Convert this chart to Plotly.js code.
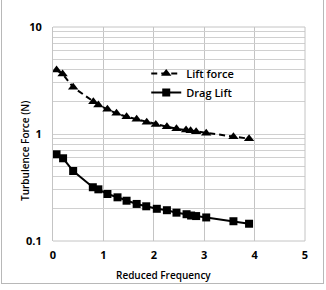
<!DOCTYPE html>
<html><head><meta charset="utf-8">
<script src="https://cdn.plot.ly/plotly-3.0.1.min.js"></script>
<style>
html,body{margin:0;padding:0;background:#fff;}
#wrap{position:relative;width:326px;height:290px;}
#chart{width:326px;height:290px;}
#frame{position:absolute;left:1px;top:-2px;width:321px;height:284px;border:1px solid #b8b8b8;pointer-events:none;}
</style></head>
<body>
<div id="wrap"><div id="chart"></div><div id="frame"></div></div>
<script>
const liftX = [0.07,0.19,0.40,0.80,0.90,1.08,1.26,1.46,1.66,1.86,2.04,2.26,2.45,2.64,2.73,2.84,3.04,3.58,3.89];
const liftY = [3.96,3.64,2.73,2.00,1.87,1.70,1.56,1.45,1.37,1.29,1.23,1.17,1.12,1.09,1.07,1.05,1.015,0.944,0.904];
const dragX = [0.07,0.20,0.40,0.79,0.90,1.08,1.28,1.46,1.66,1.85,2.06,2.26,2.45,2.65,2.74,2.84,3.04,3.58,3.89];
const dragY = [0.646,0.593,0.451,0.318,0.304,0.275,0.256,0.238,0.222,0.211,0.200,0.194,0.184,0.178,0.173,0.171,0.166,0.153,0.145];
const seriesNames = ["Lift force","Drag Lift"];
const xTicks = [0,1,2,3,4,5];
const yDecades = [0.1,1,10];
const yDecadeLabels = ["0.1","1","10"];
const xTitle = "Reduced Frequency";
const yTitle = "Turbulence Force (N)";

const yGridVals = [];
const yGridText = [];
[0.1,1].forEach(d=>{for(let k=1;k<=9;k++){const v=+(d*k).toPrecision(3);yGridVals.push(v);const i=yDecades.indexOf(v);yGridText.push(i>=0?yDecadeLabels[i]:"");}});
yGridVals.push(10); yGridText.push("10");

const fontFam = "Open Sans, sans-serif";
const data = [
 {x:liftX,y:liftY,name:seriesNames[0],mode:"lines+markers",type:"scatter",
  line:{color:"#000",width:2,dash:"6px,4px"},marker:{symbol:"triangle-up",size:9,color:"#000"}},
 {x:dragX,y:dragY,name:seriesNames[1],mode:"lines+markers",type:"scatter",
  line:{color:"#000",width:2},marker:{symbol:"square",size:8,color:"#000"}}
];
const layout = {
 width:326,height:290,
 margin:{l:53,r:21,t:27,b:49},
 paper_bgcolor:"#fff",plot_bgcolor:"#fff",
 showlegend:true,
 legend:{x:0.37,y:0.85,xanchor:"left",yanchor:"top",bgcolor:"rgba(0,0,0,0)",
   font:{family:fontFam,size:11,color:"#000",weight:600},tracegroupgap:0,itemwidth:30},
 xaxis:{range:[0,5],tickvals:xTicks,ticktext:xTicks.map(String),showgrid:true,gridcolor:"#c4c4c4",gridwidth:1,
   zeroline:false,showline:false,ticks:"",tickfont:{family:fontFam,size:11,color:"#000",weight:700},
   ticklabelstandoff:6,fixedrange:true},
 yaxis:{type:"log",range:[-1,1],tickvals:yGridVals,ticktext:yGridText,showgrid:true,gridcolor:"#d0d0d0",gridwidth:1,
   zeroline:false,showline:true,linecolor:"#c4c4c4",ticks:"",tickfont:{family:fontFam,size:11,color:"#000",weight:700},
   ticklabelstandoff:8,fixedrange:true},
 shapes:[
  {type:"line",xref:"paper",yref:"paper",x0:1,x1:1,y0:0,y1:1,line:{color:"#c4c4c4",width:1}},
  {type:"line",xref:"paper",yref:"paper",x0:0,x1:1,y0:1,y1:1,line:{color:"#c4c4c4",width:1}},
  {type:"line",xref:"paper",yref:"paper",x0:0,x1:1,y0:0,y1:0,line:{color:"#c4c4c4",width:1}}
 ],
 annotations:[
  {text:xTitle,xref:"paper",yref:"paper",x:(163-53)/252,y:-(275-241)/214,xanchor:"center",yanchor:"middle",showarrow:false,
   font:{family:fontFam,size:10,color:"#000",weight:600}},
  {text:yTitle,xref:"paper",yref:"paper",x:-(53-25)/252,y:(241-151)/214,xanchor:"center",yanchor:"middle",textangle:-90,showarrow:false,
   font:{family:fontFam,size:10,color:"#000",weight:600}}
 ]
};
Plotly.newPlot("chart",data,layout,{staticPlot:true,displayModeBar:false});
</script>
</body></html>
